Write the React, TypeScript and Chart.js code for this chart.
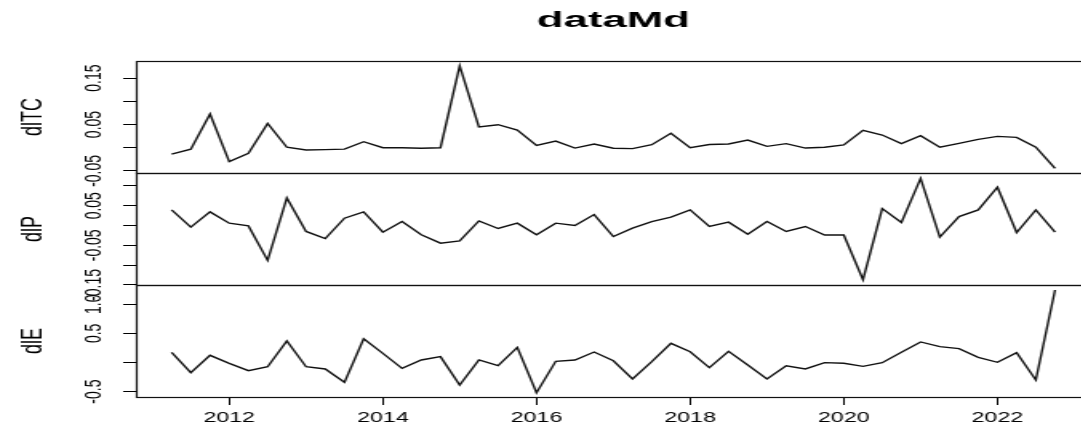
import React, { useEffect, useRef } from 'react';
import { Chart, registerables } from 'chart.js';

Chart.register(...registerables);

// ---- Data (quarterly ts, start = c(2011, 2), frequency = 4) ----
const TITLE = 'dataMd';
const START_TIME = 2011.25;
const FREQUENCY = 4;

const dlTC = [
  -0.0136, -0.003, 0.0726, -0.03, -0.012, 0.0525, 0.001, -0.005, -0.004, -0.003,
  0.013, 0.0, 0.0, -0.001, 0.0, 0.1767, 0.045, 0.0496, 0.038, 0.005,
  0.0144, -0.0007, 0.008, -0.001, -0.002, 0.0065, 0.031, 0.0, 0.007, 0.008,
  0.0166, 0.003, 0.0087, -0.0007, 0.001, 0.006, 0.0375, 0.0274, 0.0087, 0.026,
  0.001, 0.0094, 0.018, 0.0245, 0.0224, 0.001, -0.0444,
];

const dlP = [
  0.0395, -0.004, 0.0345, 0.006, -0.001, -0.088, 0.0698, -0.015, -0.033, 0.0186,
  0.0345, -0.0168, 0.01, -0.0234, -0.0445, -0.0386, 0.0118, -0.0075, 0.006, -0.0234,
  0.006, 0.0, 0.0277, -0.0277, -0.0066, 0.01, 0.021, 0.0395, -0.0025, 0.0085,
  -0.0218, 0.01, -0.015, -0.0025, -0.024, -0.024, -0.1368, 0.043, 0.0076, 0.119,
  -0.029, 0.0227, 0.0395, 0.0967, -0.0176, 0.0395, -0.0168,
];

const dlE = [
  0.175, -0.175, 0.123, -0.014, -0.14, -0.072, 0.369, -0.072, -0.111, -0.34,
  0.408, 0.157, -0.1, 0.043, 0.1, -0.386, 0.043, -0.055, 0.26, -0.518,
  0.02, 0.043, 0.18, 0.03, -0.283, 0.014, 0.329, 0.185, -0.089, 0.192,
  -0.043, -0.283, -0.055, -0.111, -0.003, -0.014, -0.066, -0.003, 0.175, 0.352,
  0.271, 0.237, 0.089, 0.003, 0.168, -0.3, 1.243,
];

const X_TICKS = [2012, 2014, 2016, 2018, 2020, 2022];
const TC_TICKS = [-0.05, 0, 0.05, 0.1, 0.15];
const TC_LABELS = ['-0.05', '', '0.05', '', '0.15'];
const P_TICKS = [-0.15, -0.1, -0.05, 0, 0.05, 0.1];
const P_LABELS = ['-0.15', '', '-0.05', '', '0.05', ''];
const E_TICKS = [-0.5, 0, 0.5, 1.0];
const E_LABELS = ['-0.5', '', '0.5', '1.0'];

const PANELS = [
  { id: 'yTC', name: 'dlTC', values: dlTC, min: -0.0545, max: 0.187, ticks: TC_TICKS, labels: TC_LABELS },
  { id: 'yP', name: 'dlP', values: dlP, min: -0.1502, max: 0.1327, ticks: P_TICKS, labels: P_LABELS },
  { id: 'yE', name: 'dlE', values: dlE, min: -0.5918, max: 1.329, ticks: E_TICKS, labels: E_LABELS },
];

const X_MIN = 2010.786;
const X_MAX = 2023.214;

const FONT = '"Liberation Sans", Arial, Helvetica, sans-serif';
const CANVAS_W = 690;
const CANVAS_H = 430;
const STRETCH = 1.6;

const rPlugin = {
  id: 'rDecorations',
  afterDraw(chart: any) {
    const ctx = chart.ctx;
    const area = chart.chartArea;
    ctx.save();
    // panel boxes
    ctx.strokeStyle = '#111';
    ctx.lineWidth = 1.2;
    PANELS.forEach((p) => {
      const s = chart.scales[p.id];
      const top = Math.round(s.top) + 0.5;
      const bottom = Math.round(s.bottom) + 0.5;
      const left = Math.round(area.left) + 0.5;
      ctx.strokeRect(left, top, area.right + 20 - left, bottom - top);
    });
    // y tick labels (parallel to axis, as in R)
    ctx.fillStyle = '#000';
    ctx.font = `14px ${FONT}`;
    ctx.textAlign = 'center';
    ctx.textBaseline = 'alphabetic';
    PANELS.forEach((p) => {
      const s = chart.scales[p.id];
      s.ticks.forEach((t: any, i: number) => {
        const lab = p.labels[i];
        if (!lab) return;
        const y = s.getPixelForValue(t.value);
        ctx.save();
        ctx.translate(62.5, y);
        ctx.rotate(-Math.PI / 2);
        ctx.fillText(lab, 0, 0);
        ctx.restore();
      });
    });
    // y axis titles
    ctx.font = `18px ${FONT}`;
    PANELS.forEach((p) => {
      const s = chart.scales[p.id];
      const y = (s.top + s.bottom) / 2;
      ctx.save();
      ctx.translate(26, y);
      ctx.rotate(-Math.PI / 2);
      ctx.fillText(p.name, 0, 0);
      ctx.restore();
    });
    // main title
    ctx.font = `bold 22px ${FONT}`;
    const w = ctx.measureText(TITLE).width;
    const target = 95.6;
    const cx = (area.left + area.right) / 2;
    ctx.save();
    ctx.translate(cx, 27);
    ctx.scale(target / w, 1);
    ctx.fillText(TITLE, 0, 0);
    ctx.restore();
    ctx.restore();
  },
};

export default function App() {
  const ref = useRef<HTMLCanvasElement | null>(null);

  useEffect(() => {
    if (!ref.current) return;
    const times = dlTC.map((_, i) => START_TIME + i / FREQUENCY);

    const yScale = (p: any) => ({
      type: 'linear',
      position: 'left',
      stack: 'panels',
      stackWeight: 1,
      min: p.min,
      max: p.max,
      afterBuildTicks: (s: any) => {
        s.ticks = p.ticks.map((v: number) => ({ value: v }));
      },
      afterFit: (s: any) => {
        s.width = 85;
      },
      grid: { drawOnChartArea: false, drawTicks: true, tickLength: 8, color: '#000', lineWidth: 1 },
      border: { display: false },
      ticks: { display: false },
    });

    const chart = new Chart(ref.current, {
      type: 'line',
      data: {
        datasets: PANELS.map((p) => ({
          label: p.name,
          yAxisID: p.id,
          data: p.values.map((v, i) => ({ x: times[i], y: v })),
          borderColor: '#111',
          borderWidth: 1.4,
          pointRadius: 0,
          tension: 0,
          fill: false,
        })),
      },
      options: {
        animation: false,
        responsive: false,
        devicePixelRatio: 1,
        layout: { padding: { top: 61, right: 8.3, bottom: 0, left: 0 } },
        plugins: {
          legend: { display: false },
          tooltip: { enabled: false },
          title: { display: false },
        },
        events: [],
        scales: {
          x: {
            type: 'linear',
            position: 'bottom',
            min: X_MIN,
            max: X_MAX,
            afterBuildTicks: (s: any) => {
              s.ticks = X_TICKS.map((v) => ({ value: v }));
            },
            afterFit: (s: any) => {
              s.height = 33;
            },
            grid: { drawOnChartArea: false, drawTicks: true, tickLength: 8, color: '#000', lineWidth: 1 },
            border: { display: false },
            ticks: {
              color: '#000',
              font: { family: FONT, size: 14.5 },
              padding: 4,
              maxRotation: 0,
              minRotation: 0,
              autoSkip: false,
              callback: (v: any) => String(v),
            },
          },
          yE: yScale(PANELS[2]),
          yP: yScale(PANELS[1]),
          yTC: yScale(PANELS[0]),
        } as any,
      },
      plugins: [rPlugin],
    } as any);

    return () => chart.destroy();
  }, []);

  return (
    <div
      style={{
        position: 'absolute',
        left: 0,
        top: 0,
        width: 1081,
        height: 430,
        overflow: 'hidden',
        background: '#fff',
      }}
    >
      <canvas
        ref={ref}
        width={CANVAS_W}
        height={CANVAS_H}
        style={{ width: `${CANVAS_W * STRETCH}px`, height: `${CANVAS_H}px`, display: 'block' }}
      />
    </div>
  );
}
